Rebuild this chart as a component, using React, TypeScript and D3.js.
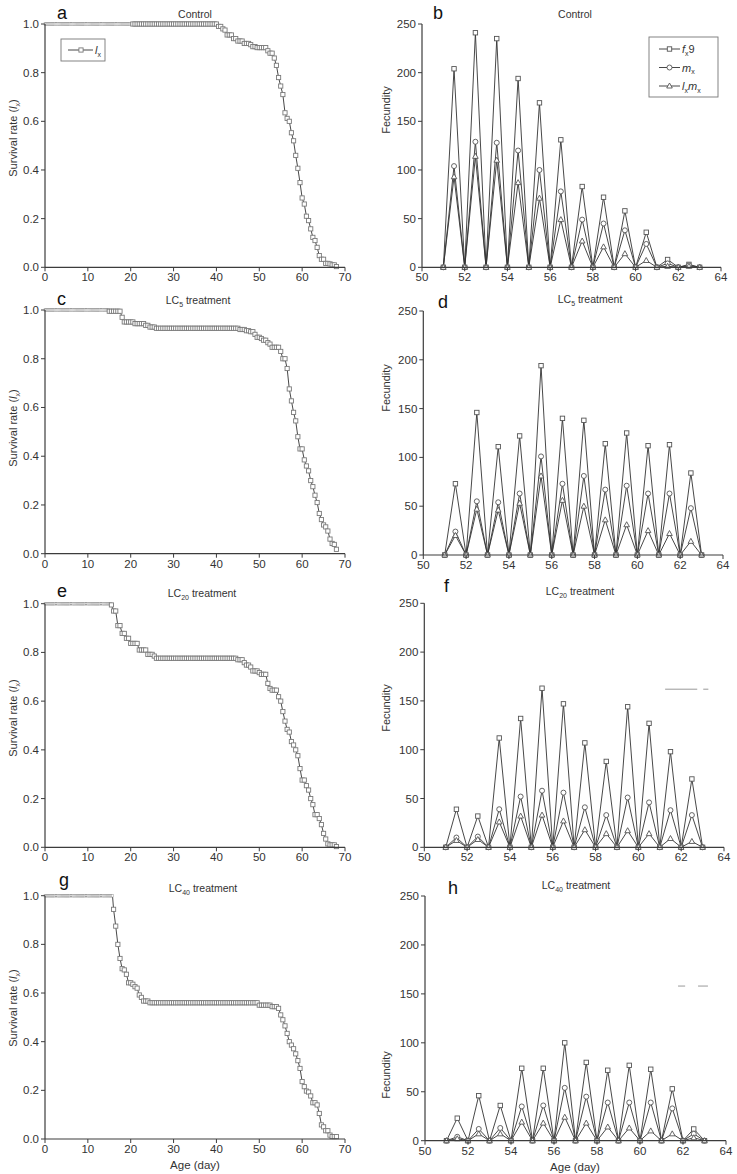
import React from 'react';
import * as d3 from 'd3';

// ---- survival (lx): [age where lx changes, new lx] ----
const lxControl: [number, number][] = [
  [0, 1], [40.5, 0.99], [41.5, 0.98], [42, 0.975], [42.5, 0.955], [44, 0.94], [45, 0.93],
  [46.5, 0.92], [48, 0.915], [48.5, 0.907], [49.5, 0.903], [52, 0.89], [52.5, 0.88],
  [53.5, 0.86], [54, 0.83], [54.5, 0.78], [55, 0.745], [55.5, 0.71], [56, 0.635],
  [56.5, 0.612], [57, 0.6], [57.5, 0.553], [58, 0.52], [58.5, 0.46], [59, 0.407],
  [59.5, 0.348], [60, 0.285], [60.5, 0.26], [61, 0.21], [61.5, 0.192], [62, 0.158],
  [62.5, 0.123], [63, 0.11], [63.5, 0.082], [64, 0.048], [64.5, 0.033], [65.5, 0.016],
  [66.5, 0.014], [67, 0.01], [68, 0.003],
];
const lxLC5: [number, number][] = [
  [0, 1], [15, 0.995], [18, 0.97], [18.5, 0.951], [21, 0.944], [23.5, 0.937], [24.5, 0.93],
  [26, 0.925], [45.5, 0.92], [47, 0.915], [48, 0.911], [49, 0.9], [49.5, 0.888], [50.5, 0.883],
  [51, 0.876], [52, 0.866], [52.5, 0.86], [53, 0.847], [55, 0.83], [55.5, 0.8], [56.5, 0.76],
  [57, 0.676], [57.5, 0.627], [58, 0.58], [58.5, 0.545], [59, 0.48], [59.5, 0.43], [60.5, 0.385],
  [61, 0.36], [61.5, 0.34], [62, 0.3], [62.5, 0.275], [63, 0.24], [63.5, 0.21], [64, 0.165],
  [64.5, 0.14], [65, 0.118], [65.5, 0.11], [66, 0.093], [66.5, 0.06], [67, 0.042],
  [67.5, 0.038], [68, 0.018],
];
const lxLC20: [number, number][] = [
  [0, 1], [15.5, 0.995], [16, 0.97], [17, 0.91], [18, 0.878], [19, 0.858], [20, 0.837],
  [22, 0.81], [24, 0.792], [25.5, 0.785], [26, 0.776], [45, 0.77], [46.5, 0.758], [47, 0.748],
  [48, 0.74], [48.5, 0.724], [50, 0.717], [50.5, 0.71], [52, 0.673], [52.5, 0.652],
  [53, 0.645], [54.5, 0.618], [55, 0.6], [55.5, 0.557], [56, 0.518], [56.5, 0.484],
  [57, 0.473], [57.5, 0.434], [58, 0.42], [58.5, 0.4], [59, 0.376], [59.5, 0.323],
  [60, 0.276], [61, 0.253], [61.5, 0.235], [62, 0.2], [62.5, 0.175], [63, 0.134],
  [64, 0.118], [64.5, 0.093], [65, 0.057], [65.5, 0.034], [66, 0.014], [66.5, 0.01], [68, 0.003],
];
const lxLC40: [number, number][] = [
  [0, 1], [16, 0.944], [16.5, 0.875], [17, 0.8], [17.5, 0.742], [18, 0.7], [18.5, 0.695],
  [19, 0.677], [19.5, 0.642], [20.5, 0.636], [21, 0.626], [21.5, 0.62], [22, 0.592],
  [22.5, 0.582], [23, 0.567], [24.5, 0.56], [50, 0.55], [53, 0.544], [54.5, 0.537],
  [55, 0.51], [55.5, 0.49], [56, 0.465], [56.5, 0.434], [57, 0.4], [57.5, 0.386],
  [58, 0.371], [58.5, 0.35], [59, 0.322], [59.5, 0.29], [60, 0.236], [60.5, 0.215],
  [61, 0.197], [61.5, 0.193], [62, 0.177], [62.5, 0.149], [63.5, 0.14], [64, 0.105],
  [64.5, 0.058], [65, 0.05], [65.5, 0.034], [66.5, 0.016], [67, 0.01],
];
// age at which the immature (tiny marker) stage ends
const adultAge = [20.5, 15, 15.5, 16];
const lastAge = 68;

// ---- fecundity ----
const fecAges = [51, 51.5, 52, 52.5, 53, 53.5, 54, 54.5, 55, 55.5, 56, 56.5, 57, 57.5, 58, 58.5,
  59, 59.5, 60, 60.5, 61, 61.5, 62, 62.5, 63];

const fxControl = [0, 204, 0, 241, 0, 235, 0, 194, 0, 169, 0, 131, 0, 83, 0, 72, 0, 58, 0, 36, 0, 8, 0, 3, 0];
const mxControl = [0, 104, 0, 129, 0, 128, 0, 120, 0, 100, 0, 78, 0, 49, 0, 45, 0, 38, 0, 24, 0, 4, 0, 2, 0];
const lxmxControl = [0, 93, 0, 114, 0, 110, 0, 87, 0, 71, 0, 49, 0, 27, 0, 21, 0, 14, 0, 7, 0, 1, 0, 1, 0];

const fxLC5 = [0, 73, 0, 146, 0, 111, 0, 122, 0, 194, 0, 140, 0, 138, 0, 114, 0, 125, 0, 112, 0, 113, 0, 84, 0];
const mxLC5 = [0, 24, 0, 55, 0, 54, 0, 63, 0, 101, 0, 73, 0, 81, 0, 67, 0, 71, 0, 63, 0, 63, 0, 48, 0];
const lxmxLC5 = [0, 20, 0, 47, 0, 46, 0, 53, 0, 81, 0, 56, 0, 50, 0, 36, 0, 31, 0, 25, 0, 22, 0, 14, 0];

const fxLC20 = [0, 39, 0, 32, 0, 112, 0, 132, 0, 163, 0, 147, 0, 107, 0, 88, 0, 144, 0, 127, 0, 98, 0, 70, 0];
const mxLC20 = [0, 10, 0, 11, 0, 39, 0, 52, 0, 58, 0, 56, 0, 41, 0, 33, 0, 51, 0, 46, 0, 38, 0, 33, 0];
const lxmxLC20 = [0, 7, 0, 8, 0, 26, 0, 32, 0, 33, 0, 27, 0, 18, 0, 14, 0, 17, 0, 14, 0, 9, 0, 6, 0];

const fxLC40 = [0, 23, 0, 46, 0, 36, 0, 74, 0, 74, 0, 100, 0, 80, 0, 72, 0, 77, 0, 73, 0, 53, 0, 12, 0];
const mxLC40 = [0, 4, 0, 12, 0, 13, 0, 35, 0, 36, 0, 54, 0, 45, 0, 39, 0, 39, 0, 39, 0, 33, 0, 7, 0];
const lxmxLC40 = [0, 2, 0, 7, 0, 7, 0, 19, 0, 18, 0, 24, 0, 18, 0, 14, 0, 13, 0, 10, 0, 7, 0, 3, 0];

// leftover legend strokes in panels f and h: [x1, x2, y]
const strayF = [[61.25, 62.75, 162], [63.03, 63.27, 162]];
const strayH = [[61.77, 62.1, 158], [62.7, 63.16, 158]];

const titles = ['Control', 'LC|5', 'LC|20', 'LC|40'];
const lxTicks = [0, 0.2, 0.4, 0.6, 0.8, 1.0];
const ageTicks = [0, 10, 20, 30, 40, 50, 60, 70];
const fecTicks = [0, 50, 100, 150, 200, 250];
const fecAgeTicks = [50, 52, 54, 56, 58, 60, 62, 64];

const FONT = '"Liberation Sans", Arial, sans-serif';
const AX = '#3c3c3c';
const TXT = '#333';

const leftBox = [
  { x0: 45, x1: 345, y0: 24, y1: 267.3, ylab: 138, letter: 'a', lx: 57, ly: 19, tx: 195, ty: 18 },
  { x0: 45, x1: 345, y0: 310, y1: 553.7, ylab: 428, letter: 'c', lx: 57, ly: 305, tx: 198, ty: 304 },
  { x0: 45, x1: 345, y0: 603.7, y1: 847.3, ylab: 718, letter: 'e', lx: 57, ly: 597, tx: 202, ty: 597 },
  { x0: 45, x1: 345, y0: 895.7, y1: 1139, ylab: 1008, letter: 'g', lx: 59, ly: 886, tx: 203, ty: 892 },
];
const rightBox = [
  { x0: 422, x1: 721, y0: 24, y1: 267.3, ylab: 110, letter: 'b', lx: 433, ly: 19, tx: 575, ty: 18 },
  { x0: 423.3, x1: 723, y0: 311, y1: 555, ylab: 388, letter: 'd', lx: 438, ly: 308, tx: 590, ty: 303 },
  { x0: 424.3, x1: 724, y0: 603.3, y1: 847.3, ylab: 708, letter: 'f', lx: 444, ly: 592, tx: 580, ty: 595 },
  { x0: 425, x1: 726, y0: 896, y1: 1140.7, ylab: 1075, letter: 'h', lx: 448, ly: 894, tx: 576, ty: 889 },
];

function lxAt(steps: [number, number][], age: number) {
  let v = steps[0][1];
  for (const [a, l] of steps) if (a <= age + 1e-9) v = l;
  return v;
}

const Title = ({ x, y, t }: { x: number; y: number; t: string }) => {
  const [main, sub] = t.split('|');
  return (
    <text x={x} y={y} textAnchor="middle" fontSize={10.5} fill={TXT} fontFamily={FONT}>
      {main}
      {sub && <tspan fontSize={7} dy={3}>{sub}</tspan>}
      {sub && <tspan dy={-3}> treatment</tspan>}
    </text>
  );
};

const Marker = ({ kind, x, y, s = 4.4, stroke = '#666' }: any) => {
  if (kind === 'sq')
    return <rect x={x - s / 2} y={y - s / 2} width={s} height={s} fill="#fff" stroke={stroke} strokeWidth={0.9} />;
  if (kind === 'ci') return <circle cx={x} cy={y} r={s / 2 + 0.3} fill="#fff" stroke={stroke} strokeWidth={0.9} />;
  const h = s + 0.6;
  return (
    <path
      d={`M${x},${y - h / 2 - 0.5}L${x + h / 2 + 0.3},${y + h / 2 - 0.5}L${x - h / 2 - 0.3},${y + h / 2 - 0.5}Z`}
      fill="#fff"
      stroke={stroke}
      strokeWidth={0.9}
    />
  );
};

const SurvivalPanel = ({ i, steps }: { i: number; steps: [number, number][] }) => {
  const b = leftBox[i];
  const x = d3.scaleLinear().domain([0, 70]).range([b.x0, b.x1]);
  const y = d3.scaleLinear().domain([0, 1]).range([b.y1, b.y0]);
  const small = d3.range(0, adultAge[i], 0.25).map((a) => ({ age: a, lx: lxAt(steps, a) }));
  const big = d3.range(adultAge[i], lastAge + 0.01, 0.5).map((a) => ({ age: a, lx: lxAt(steps, a) }));
  const line = d3.line<{ age: number; lx: number }>().x((d) => x(d.age)).y((d) => y(d.lx));
  return (
    <g fontFamily={FONT}>
      <path d={line([...small, ...big]) || ''} fill="none" stroke="#333" strokeWidth={0.9} />
      {small.map((d, k) => (
        <rect key={'s' + k} x={x(d.age) - 0.9} y={y(d.lx) - 1.3} width={1.8} height={2.6} fill="#fff" stroke="#999" strokeWidth={0.5} />
      ))}
      {big.map((d, k) => (
        <Marker key={k} kind="sq" x={x(d.age)} y={y(d.lx)} s={4.2} stroke="#7a7a7a" />
      ))}
      <line x1={b.x0} x2={b.x0} y1={b.y0} y2={b.y1} stroke={AX} strokeWidth={1.2} />
      <line x1={b.x0} x2={b.x1} y1={b.y1} y2={b.y1} stroke={AX} strokeWidth={1.2} />
      {lxTicks.map((t) => (
        <g key={t}>
          <line x1={b.x0 - 4} x2={b.x0} y1={y(t)} y2={y(t)} stroke={AX} />
          <text x={b.x0 - 6} y={y(t) + 4} textAnchor="end" fontSize={11.5} fill={TXT}>{d3.format('.1f')(t)}</text>
        </g>
      ))}
      {ageTicks.map((t) => (
        <g key={t}>
          <line x1={x(t)} x2={x(t)} y1={b.y1} y2={b.y1 + 4} stroke={AX} />
          <text x={x(t)} y={b.y1 + 14} textAnchor="middle" fontSize={11.5} fill={TXT}>{t}</text>
        </g>
      ))}
      <text transform={`translate(17,${b.ylab}) rotate(-90)`} textAnchor="middle" fontSize={11} fill={TXT}>
        Survival rate (<tspan fontStyle="italic">l</tspan>
        <tspan fontSize={7} dy={2.5}>x</tspan>
        <tspan dy={-2.5}>)</tspan>
      </text>
      <text x={b.lx} y={b.ly} fontSize={18} fill="#111">{b.letter}</text>
      <Title x={b.tx} y={b.ty} t={titles[i]} />
    </g>
  );
};

const FecundityPanel = ({ i, series, stray }: { i: number; series: number[][]; stray?: number[][] }) => {
  const b = rightBox[i];
  const x = d3.scaleLinear().domain([50, 64]).range([b.x0, b.x1]);
  const y = d3.scaleLinear().domain([0, 250]).range([b.y1, b.y0]);
  const line = d3.line<number>().x((_, k) => x(fecAges[k])).y((d) => y(d));
  const kinds = ['sq', 'ci', 'tr'];
  return (
    <g fontFamily={FONT}>
      {series.map((s, si) => (
        <path key={si} d={line(s) || ''} fill="none" stroke="#333" strokeWidth={0.9} />
      ))}
      {series.map((s, si) =>
        s.map((v, k) => <Marker key={si + '-' + k} kind={kinds[si]} x={x(fecAges[k])} y={y(v)} s={4.4} stroke="#555" />)
      )}
      {stray &&
        stray.map((s, k) => (
          <line key={'st' + k} x1={x(s[0])} x2={x(s[1])} y1={y(s[2])} y2={y(s[2])} stroke="#999" strokeWidth={1} />
        ))}
      <line x1={b.x0} x2={b.x0} y1={b.y0} y2={b.y1} stroke={AX} strokeWidth={1.2} />
      <line x1={b.x0} x2={b.x1} y1={b.y1} y2={b.y1} stroke={AX} strokeWidth={1.2} />
      {fecTicks.map((t) => (
        <g key={t}>
          <line x1={b.x0 - 4} x2={b.x0} y1={y(t)} y2={y(t)} stroke={AX} />
          <text x={b.x0 - 6} y={y(t) + 4} textAnchor="end" fontSize={11.5} fill={TXT}>{t}</text>
        </g>
      ))}
      {fecAgeTicks.map((t) => (
        <g key={t}>
          <line x1={x(t)} x2={x(t)} y1={b.y1} y2={b.y1 + 4} stroke={AX} />
          <text x={x(t)} y={b.y1 + 14} textAnchor="middle" fontSize={11.5} fill={TXT}>{t}</text>
        </g>
      ))}
      <text transform={`translate(390,${b.ylab}) rotate(-90)`} textAnchor="middle" fontSize={11} fill={TXT}>Fecundity</text>
      <text x={b.lx} y={b.ly} fontSize={18} fill="#111">{b.letter}</text>
      <Title x={b.tx} y={b.ty} t={titles[i]} />
    </g>
  );
};

const App = () => {
  const lxSets = [lxControl, lxLC5, lxLC20, lxLC40];
  const fec = [
    [fxControl, mxControl, lxmxControl],
    [fxLC5, mxLC5, lxmxLC5],
    [fxLC20, mxLC20, lxmxLC20],
    [fxLC40, mxLC40, lxmxLC40],
  ];
  const strays = [undefined, undefined, strayF, strayH];
  const legendB = [
    { kind: 'sq', label: ['f', 'x', '9'] },
    { kind: 'ci', label: ['m', 'x', ''] },
    { kind: 'tr', label: ['l', 'x', 'm', 'x'] },
  ];
  return (
    <svg width={737} height={1174} style={{ position: 'absolute', left: 0, top: 0, background: '#fff' }}>
      {lxSets.map((s, i) => <SurvivalPanel key={'l' + i} i={i} steps={s} />)}
      {fec.map((s, i) => <FecundityPanel key={'f' + i} i={i} series={s} stray={strays[i]} />)}

      {/* legend a */}
      <g fontFamily={FONT}>
        <rect x={61} y={39} width={44} height={22} fill="#fff" stroke="#777" strokeWidth={0.9} />
        <line x1={68} x2={93} y1={50} y2={50} stroke="#333" strokeWidth={0.9} />
        <Marker kind="sq" x={81} y={50} s={4.2} stroke="#777" />
        <text x={95} y={54} fontSize={11} fill={TXT}>
          <tspan fontStyle="italic">l</tspan>
          <tspan fontSize={7} dy={2.5}>x</tspan>
        </text>
      </g>

      {/* legend b */}
      <g fontFamily={FONT}>
        <rect x={649} y={37} width={69} height={60} fill="#fff" stroke="#777" strokeWidth={0.9} />
        {legendB.map((d, k) => {
          const yy = 49 + k * 18.5;
          return (
            <g key={k}>
              <line x1={659} x2={680} y1={yy} y2={yy} stroke="#333" strokeWidth={0.9} />
              <Marker kind={d.kind} x={669.5} y={yy} s={4.4} stroke="#555" />
              <text x={682} y={yy + 4} fontSize={11} fill={TXT}>
                <tspan fontStyle="italic">{d.label[0]}</tspan>
                <tspan fontSize={7} dy={2.5}>{d.label[1]}</tspan>
                {d.label.length === 3 ? (
                  <tspan dy={-2.5}>{d.label[2]}</tspan>
                ) : (
                  <>
                    <tspan dy={-2.5} fontStyle="italic">{d.label[2]}</tspan>
                    <tspan fontSize={7} dy={2.5}>{d.label[3]}</tspan>
                  </>
                )}
              </text>
            </g>
          );
        })}
      </g>

      <text x={195} y={1169} textAnchor="middle" fontSize={11.5} fill={TXT} fontFamily={FONT}>Age (day)</text>
      <text x={575} y={1171} textAnchor="middle" fontSize={11.5} fill={TXT} fontFamily={FONT}>Age (day)</text>
    </svg>
  );
};

export default App;
